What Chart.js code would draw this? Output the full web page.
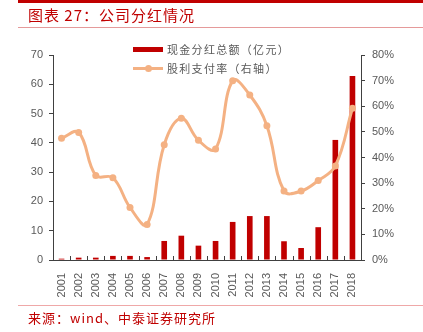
<!DOCTYPE html>
<html>
<head>
<meta charset="utf-8">
<script src="https://cdn.jsdelivr.net/npm/chart.js@4"></script>
<style>
  html, body { margin: 0; padding: 0; background: #fff; }
  #wrap { position: relative; width: 423px; height: 332px; overflow: hidden; }
  #chart { position: absolute; left: 0; top: 0; }
  .rule { position: absolute; left: 18px; right: 0; }
  #topRule { top: 0; height: 3px; background: #c00000; }
  #titleRule { top: 27px; height: 1px; background: #e59a9a; }
  #footRule { top: 305px; height: 1px; background: #efa8a8; }
  #title { position: absolute; left: 28px; top: 4px; font: 15px "Noto Sans CJK SC"; color: #c00000; letter-spacing: 1px; }
  #source { position: absolute; left: 28px; top: 308px; font: 13px "Noto Sans CJK SC"; color: #c00000; letter-spacing: 1px; }
  .legend { position: absolute; left: 133px; font: 11px "Noto Sans CJK SC"; color: #595959; letter-spacing: 1.3px; }
  .legend span { display: inline-block; vertical-align: middle; }
  #lgBar { top: 39px; }
  #lgLine { top: 58px; }
  .swatchBar { width: 30px; height: 5px; background: #c00000; margin-right: 4px; }
  .swatchLine { position: relative; width: 30px; height: 3px; background: #f4b183; margin-right: 4px; }
  .swatchLine::after { content: ""; position: absolute; left: 12px; top: -2px; width: 7px; height: 7px; border-radius: 50%; background: #f4b183; }
</style>
</head>
<body>
<div id="wrap">
  <canvas id="chart" width="423" height="332"></canvas>
  <div class="rule" id="topRule"></div>
  <div id="title">图表 27：公司分红情况</div>
  <div class="rule" id="titleRule"></div>
  <div class="legend" id="lgBar"><span class="swatchBar"></span><span>现金分红总额（亿元）</span></div>
  <div class="legend" id="lgLine"><span class="swatchLine"></span><span>股利支付率（右轴）</span></div>
  <div class="rule" id="footRule"></div>
  <div id="source">来源：wind、中泰证券研究所</div>
</div>
<script>
const years = ["2001", "2002", "2003", "2004", "2005", "2006", "2007", "2008", "2009",
               "2010", "2011", "2012", "2013", "2014", "2015", "2016", "2017", "2018"];
// 现金分红总额（亿元）
const cashDividend = [0.45, 0.8, 0.8, 1.4, 1.4, 1.0, 6.5, 8.3, 4.9,
                      6.5, 13, 15, 15, 6.4, 4.1, 11.2, 41, 62.8];
// 股利支付率（%）
const payoutRatio = [47.5, 49.8, 33.0, 32.1, 20.5, 13.9, 45.0, 55.3, 46.7,
                     43.3, 70.0, 64.4, 52.4, 26.9, 26.9, 31.0, 36.7, 59.2];

const axisGray = "#595959";
const tickFont = { family: "Liberation Sans", size: 11 };

// short inward ticks between categories on the x axis
const innerTicks = {
  id: "innerTicks",
  afterDraw(chart) {
    const x = chart.scales.x;
    const ctx = chart.ctx;
    const y0 = chart.chartArea.bottom;
    ctx.save();
    ctx.strokeStyle = "#404040";
    ctx.lineWidth = 1;
    ctx.beginPath();
    for (let i = 0; i < years.length - 1; i++) {
      const px = Math.round((x.getPixelForValue(i) + x.getPixelForValue(i + 1)) / 2) + 0.5;
      ctx.moveTo(px, y0);
      ctx.lineTo(px, y0 - 4);
    }
    ctx.stroke();
    ctx.restore();
  }
};

new Chart(document.getElementById("chart"), {
  data: {
    labels: years,
    datasets: [
      {
        type: "line",
        label: "股利支付率（右轴）",
        data: payoutRatio,
        yAxisID: "y1",
        borderColor: "#f4b183",
        backgroundColor: "#f4b183",
        borderWidth: 3,
        pointRadius: 3.5,
        pointBorderWidth: 0,
        tension: 0.4,
        order: 0
      },
      {
        type: "bar",
        label: "现金分红总额（亿元）",
        data: cashDividend,
        yAxisID: "y",
        backgroundColor: "#c00000",
        barPercentage: 0.33,
        categoryPercentage: 1,
        order: 1
      }
    ]
  },
  plugins: [innerTicks],
  options: {
    responsive: false,
    animation: false,
    layout: { padding: { top: 55 } },
    plugins: { legend: { display: false }, tooltip: { enabled: false } },
    scales: {
      x: {
        grid: { display: false },
        border: { color: "#404040" },
        ticks: { color: axisGray, font: tickFont, minRotation: 90, maxRotation: 90, padding: 5 },
        afterFit(scale) { scale.height = 72; }
      },
      y: {
        position: "left",
        min: 0, max: 70,
        ticks: { stepSize: 10, color: axisGray, font: tickFont, padding: 6 },
        grid: { drawOnChartArea: false, tickLength: 4, color: "#404040" },
        border: { color: "#404040" },
        afterFit(scale) { scale.width = 53; }
      },
      y1: {
        position: "right",
        min: 0, max: 80,
        ticks: { stepSize: 10, color: axisGray, font: tickFont, padding: 7,
                 callback: v => v + "%" },
        grid: { drawOnChartArea: false, tickLength: 4, color: "#404040" },
        border: { color: "#404040" },
        afterFit(scale) { scale.width = 62; }
      }
    }
  }
});
</script>
</body>
</html>
